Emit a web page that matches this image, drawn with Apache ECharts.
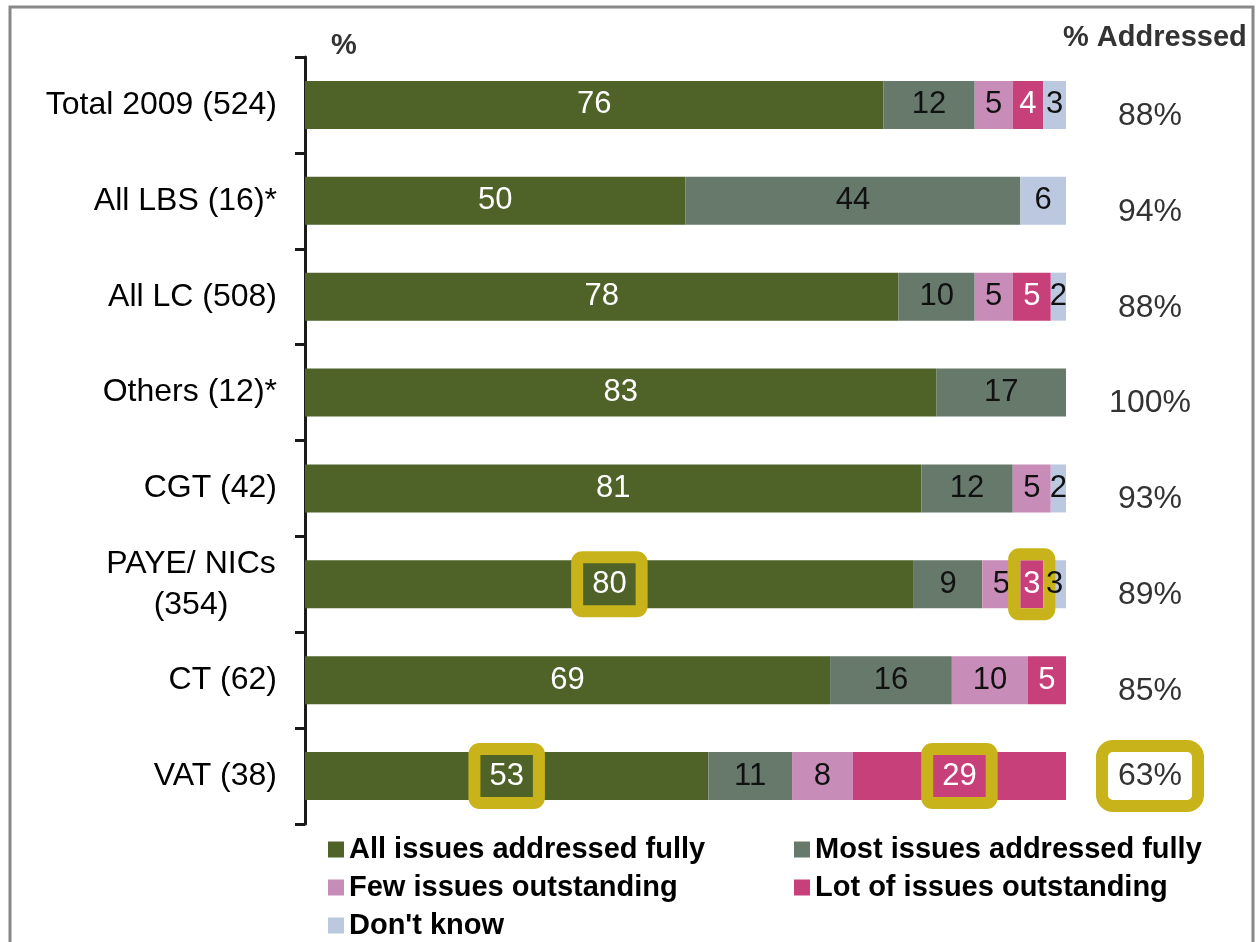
<!DOCTYPE html>
<html>
<head>
<meta charset="utf-8">
<script src="https://cdn.jsdelivr.net/npm/echarts@6/dist/echarts.min.js"></script>
<style>
  html, body { margin: 0; padding: 0; background: #fff; }
  #chart { width: 1260px; height: 942px; }
</style>
</head>
<body>
<div id="chart"></div>
<script>
const categories = ['Total 2009 (524)', 'All LBS (16)*', 'All LC (508)', 'Others (12)*', 'CGT (42)', 'PAYE/ NICs\n(354)', 'CT (62)', 'VAT (38)'];
const allFully   = [76, 50, 78, 83, 81, 80, 69, 53];
const mostFully  = [12, 44, 10, 17, 12, 9, 16, 11];
const fewOut     = [5, 0, 5, 0, 5, 5, 10, 8];
const lotOut     = [4, 0, 5, 0, 0, 3, 5, 29];
const dontKnow   = [3, 6, 2, 0, 2, 3, 0, 0];
const addressed  = ['88%', '94%', '88%', '100%', '93%', '89%', '85%', '63%'];
const seriesNames = ['All issues addressed fully', 'Most issues addressed fully', 'Few issues outstanding', 'Lot of issues outstanding', "Don't know"];
// highlighted labels: [series index, category index]
const highlights = [[0, 5], [3, 5], [0, 7], [3, 7]];
const highlightedAddressed = [7];

const colors = ['#4F6228', '#66796A', '#C88CB8', '#C8407A', '#BCC8E0'];
const labelColors = ['#ffffff', '#111111', '#111111', '#ffffff', '#111111'];
const seriesValues = [allFully, mostFully, fewOut, lotOut, dontKnow];
const YELLOW = '#C8B41A';
const FONT = '"Liberation Sans", Arial, sans-serif';

const chart = echarts.init(document.getElementById('chart'));

const series = seriesValues.map((vals, si) => ({
  name: seriesNames[si],
  type: 'bar',
  stack: 'total',
  barWidth: 48,
  itemStyle: { color: colors[si] },
  label: {
    show: true,
    position: 'inside',
    color: labelColors[si],
    fontSize: 31,
    lineHeight: 32,
    fontFamily: FONT,
    formatter: p => (p.value ? String(p.value) : '')
  },
  data: vals.map((v, ci) => {
    const hl = highlights.some(h => h[0] === si && h[1] === ci);
    if (!hl) return v;
    const single = String(v).length === 1;
    return {
      value: v,
      label: {
        borderColor: YELLOW,
        borderWidth: 12,
        borderRadius: 5,
        padding: single ? [14, 9] : [11, 15]
      }
    };
  })
}));

const legendText = { fontSize: 29, fontWeight: 'bold', color: '#000', fontFamily: FONT, lineHeight: 29 };

chart.setOption({
  animation: false,
  color: colors,
  grid: { left: 305, right: 194, top: 57, bottom: 118, containLabel: false },
  xAxis: { type: 'value', min: 0, max: 100, show: false },
  yAxis: [
    {
      type: 'category',
      inverse: true,
      data: categories,
      axisLine: { show: true, lineStyle: { color: '#1a1a1a', width: 3 } },
      axisTick: { show: true, length: 10, lineStyle: { color: '#1a1a1a', width: 3 } },
      axisLabel: {
        margin: 28,
        color: '#000',
        fontSize: 32,
        fontFamily: FONT,
        formatter: v => {
          if (v.indexOf('\n') >= 0) {
            return v.split('\n').map(s => '{m|' + s + '}').join('\n');
          }
          return v;
        },
        rich: {
          m: { width: 172, align: 'center', fontSize: 32, lineHeight: 41, color: '#000', fontFamily: FONT }
        }
      }
    },
    {
      type: 'category',
      inverse: true,
      position: 'right',
      data: addressed,
      axisLine: { show: false },
      axisTick: { show: false },
      axisLabel: {
        margin: 84,
        align: 'center',
        fontSize: 32,
        color: '#333',
        fontFamily: FONT,
        formatter: (v, i) => highlightedAddressed.indexOf(i) >= 0 ? '{hl|' + v + '}' : '{p|' + v + '}',
        rich: {
          p: { fontSize: 32, color: '#333', fontFamily: FONT, padding: [22, 0, 0, 0] },
          hl: { fontSize: 32, color: '#333', fontFamily: FONT, backgroundColor: '#fff', borderColor: YELLOW, borderWidth: 12, borderRadius: 5, padding: [8, 10] }
        }
      }
    }
  ],
  legend: [
    {
      data: [seriesNames[0], seriesNames[2], seriesNames[4]],
      orient: 'vertical',
      left: 328,
      top: 835,
      padding: 0,
      icon: 'rect',
      itemWidth: 16,
      itemHeight: 16,
      itemGap: 9,
      selectedMode: false,
      textStyle: legendText
    },
    {
      data: [seriesNames[1], seriesNames[3]],
      orient: 'vertical',
      left: 794,
      top: 835,
      padding: 0,
      icon: 'rect',
      itemWidth: 16,
      itemHeight: 16,
      itemGap: 9,
      selectedMode: false,
      textStyle: legendText
    }
  ],
  title: [
    { text: '%', left: 326, top: 26, textStyle: { fontSize: 29, fontWeight: 'bold', color: '#333', fontFamily: FONT } },
    { text: '% Addressed', left: 1058, top: 18, textStyle: { fontSize: 29, fontWeight: 'bold', color: '#333', fontFamily: FONT } }
  ],
  graphic: [
    { type: 'rect', shape: { x: 10, y: 7, width: 1243, height: 960 }, style: { fill: 'none', stroke: '#888', lineWidth: 3 }, silent: true, z: -1 }
  ],
  series: series
});
</script>
</body>
</html>
